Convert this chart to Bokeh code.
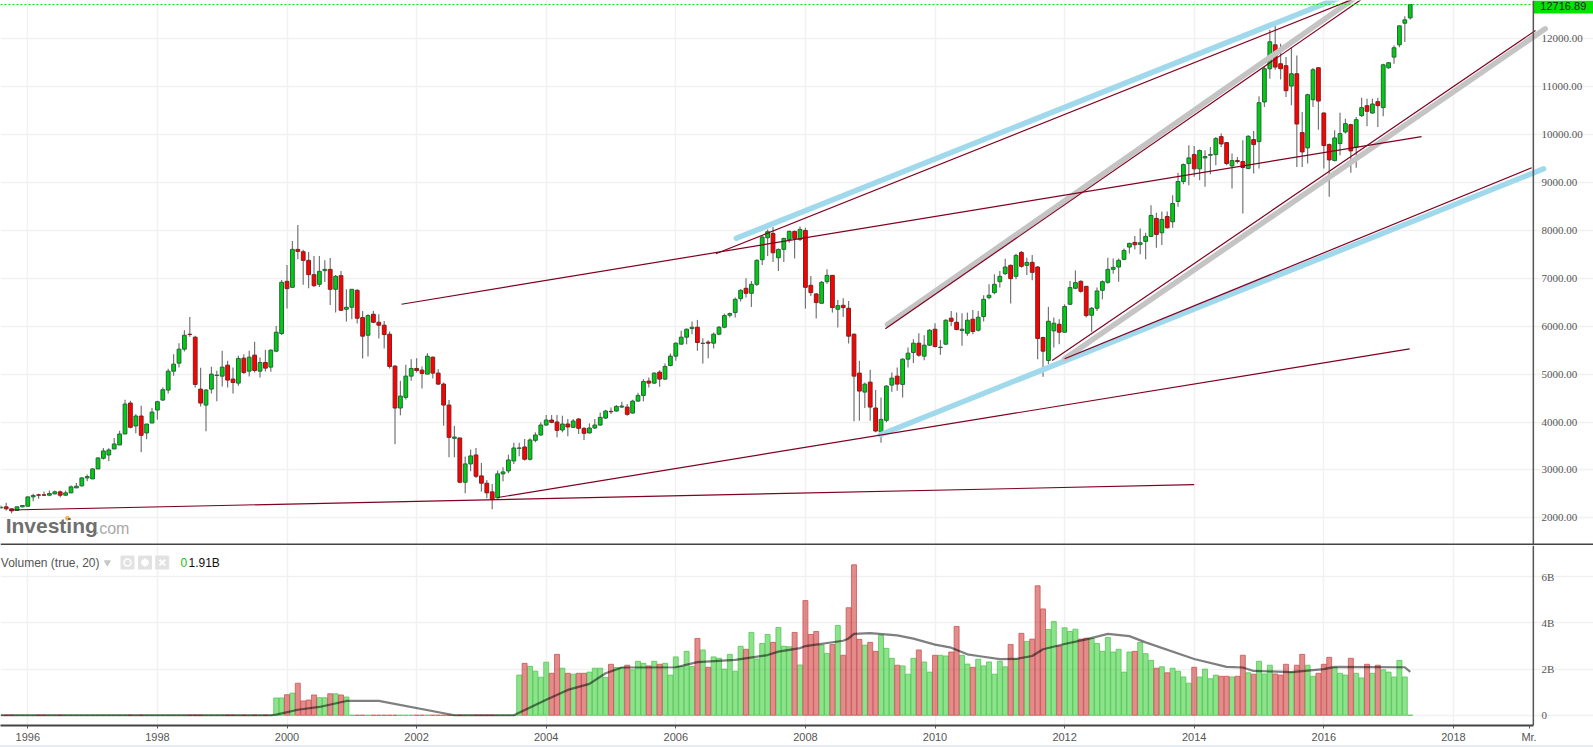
# DAX monthly candles with volume pane and hand drawn trend lines
import numpy as np
from bokeh.embed import file_html
from bokeh.layouts import column
from bokeh.models import BoxAnnotation, ColumnDataSource, Div, FixedTicker, Grid, Label, LinearAxis, Span
from bokeh.plotting import figure
from bokeh.resources import INLINE

# months counted from Jan 1996, one candle per month
months = list(range(-5, 257))

opens = [2208, 2229, 2187, 2153, 2229,
    2243, 2437, 2479, 2479, 2472, 2500, 2542, 2472, 2521, 2625,
    2667, 2833, 2812, 3021, 3243, 3312, 3437, 3521, 3750, 4396,
    3917, 4125, 3771, 3979, 4250, 4458, 4667, 5062, 5229, 5521,
    5833, 5771, 4687, 4354, 4687, 4972, 4958, 5187, 4896, 4812,
    5333, 5062, 5396, 5062, 5243, 5146, 5479, 5847, 6937, 6812,
    7604, 7555, 7375, 7076, 6875, 7160, 7187, 6771, 7055, 6354,
    6396, 6750, 6180, 5812, 6250, 6083, 6021, 5833, 5167, 4292,
    4514, 4958, 5118, 5083, 5000, 5354, 5021, 4792, 4354, 3660,
    3667, 2743, 3125, 3312, 2875, 2722, 2542, 2417, 2917, 2979,
    3187, 3451, 3479, 3222, 3618, 3729, 3937, 4042, 4000, 3833,
    3958, 3889, 4062, 3868, 3771, 3875, 3937, 4083, 4222, 4229,
    4312, 4312, 4187, 4437, 4555, 4854, 4812, 5042, 4896, 5180,
    5375, 5625, 5771, 5951, 5979, 5639, 5667, 5646, 5833, 5979,
    6229, 6285, 6576, 6792, 6687, 6875, 7389, 7847, 7937, 7430,
    7604, 7812, 7979, 7812, 8000, 6854, 6674, 6479, 6930, 7062,
    6354, 6437, 6375, 5833, 5021, 4625, 4833, 4292, 3792, 4035,
    4771, 4958, 4785, 5312, 5451, 5646, 5375, 5604, 5937, 5555,
    5625, 6167, 6083, 5910, 5854, 6146, 5917, 6201, 6597, 6701,
    6930, 7097, 7271, 7042, 7541, 7271, 7333, 7236, 5764, 5285,
    5903, 6041, 5875, 6458, 6792, 6937, 6833, 6229, 6375, 6750,
    6917, 7187, 7236, 7396, 7652, 7750, 7708, 7771, 7875, 8250,
    7951, 8291, 8180, 8604, 9021, 9396, 9583, 9285, 9514, 9569,
    9583, 9958, 9833, 9347, 9458, 9438, 9292, 9896, 9854, 10681,
    11375, 11875, 11479, 11438, 11014, 11271, 10042, 9722, 10729, 11396,
    10451, 9792, 9458, 9813, 10056, 10208, 9736, 10396, 10604, 10451,
    10688, 10563, 11396, 11618, 11875, 12326, 12437]

closes = [2222, 2187, 2146, 2229, 2257,
    2437, 2465, 2472, 2472, 2507, 2542, 2472, 2521, 2646, 2660,
    2833, 2861, 3021, 3250, 3396, 3417, 3542, 3750, 4375, 3889,
    4125, 3722, 3958, 4208, 4424, 4674, 5062, 5208, 5521, 5812,
    5826, 4785, 4396, 4667, 5000, 4979, 5146, 4875, 4826, 5326,
    5035, 5354, 5076, 5243, 5125, 5500, 5875, 6917, 6785, 7604,
    7562, 7375, 7076, 6847, 7146, 7187, 6771, 7042, 6333, 6396,
    6771, 6167, 5792, 6222, 6083, 6021, 5826, 5160, 4292, 4542,
    4958, 5118, 5076, 5014, 5375, 5021, 4792, 4354, 3680, 3687,
    2743, 3125, 3292, 2868, 2722, 2521, 2382, 2917, 2958, 3208,
    3458, 3458, 3222, 3625, 3729, 3937, 4042, 3993, 3826, 3958,
    3896, 4021, 3868, 3764, 3875, 3937, 4097, 4229, 4215, 4326,
    4333, 4160, 4437, 4555, 4847, 4812, 5021, 4896, 5160, 5375,
    5646, 5771, 5937, 5979, 5660, 5646, 5646, 5833, 5979, 6222,
    6264, 6562, 6750, 6687, 6875, 7375, 7861, 7972, 7534, 7604,
    7833, 7979, 7833, 8021, 6812, 6701, 6493, 6917, 7062, 6389,
    6430, 6389, 5792, 4958, 4646, 4792, 4312, 3812, 4055, 4750,
    4917, 4792, 5312, 5437, 5646, 5396, 5604, 5917, 5576, 5562,
    6125, 6104, 5930, 5937, 6125, 5889, 6187, 6562, 6646, 6875,
    7042, 7236, 6993, 7479, 7250, 7333, 7125, 5743, 5479, 6104,
    6062, 5875, 6410, 6806, 6910, 6729, 6222, 6375, 6736, 6930,
    7187, 7229, 7375, 7583, 7729, 7701, 7743, 7875, 8312, 7916,
    8229, 8055, 8562, 9021, 9375, 9514, 9285, 9667, 9542, 9583,
    9917, 9806, 9396, 9458, 9438, 9313, 9965, 9792, 10667, 11375,
    11938, 11410, 11375, 10917, 11271, 10222, 9639, 10833, 11354, 10701,
    9771, 9472, 9931, 10021, 10229, 9660, 10313, 10563, 10486, 10639,
    10604, 11458, 11500, 11813, 12271, 12396, 12716.89]

highs = [2257, 2312, 2194, 2236, 2264,
    2444, 2500, 2500, 2549, 2569, 2569, 2569, 2569, 2674, 2729,
    2847, 2903, 3035, 3264, 3458, 3451, 3667, 3819, 4465, 4444,
    4167, 4340, 3958, 4292, 4444, 4722, 5111, 5417, 5646, 5917,
    6194, 5799, 5132, 4687, 5153, 5069, 5486, 5278, 5139, 5382,
    5417, 5486, 5674, 5347, 5507, 5521, 6007, 6965, 7278, 7778,
    8111, 7597, 7548, 7465, 7465, 7375, 7423, 7069, 7153, 6771,
    6771, 6771, 6319, 6250, 6319, 6250, 6111, 5889, 5187, 4861,
    5194, 5312, 5333, 5160, 5437, 5368, 5104, 4826, 4458, 3917,
    3667, 3278, 3424, 3458, 3146, 2792, 2708, 2986, 3055, 3319,
    3569, 3569, 3646, 3660, 3785, 3993, 4146, 4146, 4146, 4132,
    4062, 4062, 4083, 3889, 3972, 4062, 4201, 4257, 4305, 4354,
    4424, 4375, 4465, 4611, 4896, 4930, 5035, 5083, 5222, 5430,
    5660, 5903, 5951, 6097, 6132, 5750, 5708, 5868, 6007, 6264,
    6285, 6597, 6771, 7000, 6944, 7396, 7882, 8021, 8069, 7625,
    7847, 8000, 8000, 8083, 8055, 7049, 6687, 6944, 7187, 7062,
    6548, 6583, 6528, 5847, 5278, 4826, 5090, 4667, 4514, 4771,
    5035, 5139, 5333, 5555, 5729, 5854, 5812, 5937, 6062, 5715,
    6146, 6319, 6285, 6271, 6285, 6340, 6319, 6646, 6875, 7083,
    7153, 7410, 7291, 7514, 7569, 7430, 7486, 7257, 5778, 6403,
    6180, 6146, 6458, 6944, 7166, 6958, 6840, 6403, 6806, 6958,
    7430, 7416, 7416, 7625, 7743, 7882, 8042, 7951, 8528, 8368,
    8396, 8396, 8736, 9202, 9396, 9778, 9764, 9688, 9674, 9743,
    9951, 10021, 9847, 9604, 9535, 9882, 9986, 10077, 10799, 11410,
    12187, 12347, 11896, 11618, 11813, 11653, 10472, 10854, 11389, 11410,
    10465, 9813, 10090, 10458, 10333, 10229, 10368, 10771, 10750, 10750,
    10771, 11479, 11514, 11861, 12271, 12472, 12716.89]

lows = [2187, 2153, 2097, 2146, 2222,
    2236, 2347, 2396, 2465, 2451, 2486, 2431, 2465, 2514, 2625,
    2653, 2764, 2812, 3021, 3215, 3181, 3437, 3521, 3750, 3868,
    3764, 3368, 3639, 3979, 4049, 4444, 4597, 4965, 5139, 5472,
    5778, 4722, 4326, 3805, 4597, 4431, 4743, 4722, 4597, 4757,
    5000, 4951, 5035, 4930, 5055, 5049, 5458, 5819, 6368, 6806,
    7396, 6868, 6792, 6819, 6819, 6924, 6444, 6285, 6319, 6097,
    6146, 6055, 5326, 5368, 6062, 5743, 5535, 5118, 3535, 4139,
    4472, 4861, 5035, 4701, 4993, 4910, 4771, 3924, 3264, 3264,
    2722, 2514, 2972, 2833, 2549, 2410, 2181, 2396, 2764, 2931,
    3125, 3285, 3194, 3194, 3576, 3715, 3924, 3972, 3680, 3785,
    3701, 3875, 3750, 3625, 3764, 3854, 3924, 4062, 4167, 4215,
    4292, 4132, 4180, 4424, 4431, 4722, 4792, 4736, 4875, 5160,
    5278, 5625, 5625, 5833, 5486, 5222, 5333, 5535, 5812, 5958,
    6180, 6180, 6514, 6597, 6403, 6840, 7278, 7465, 7340, 7153,
    7340, 7743, 7416, 7778, 6368, 6632, 6160, 6472, 6889, 6285,
    5972, 6194, 5639, 4014, 4028, 4292, 4028, 3785, 3569, 3993,
    4632, 4653, 4514, 5139, 5229, 5361, 5292, 5590, 5555, 5403,
    5611, 6007, 5917, 5590, 5799, 5833, 5889, 6097, 6562, 6667,
    6806, 7069, 6472, 6979, 7222, 7069, 6958, 5312, 4944, 5208,
    5555, 5625, 5868, 6444, 6771, 6701, 6180, 5882, 6319, 6562,
    6889, 7097, 6930, 7375, 7520, 7604, 7500, 7396, 7861, 7639,
    7694, 8042, 8055, 8493, 8965, 8945, 9118, 9049, 8910, 9174,
    9361, 9743, 9361, 8875, 9396, 8354, 9278, 9188, 9292, 10576,
    11167, 11354, 11153, 10785, 10611, 9326, 9326, 9396, 10576, 10104,
    9292, 8702, 9444, 9570, 10021, 9202, 9306, 10368, 10174, 10437,
    10160, 10382, 11375, 11479, 11826, 11931, 12403]

# volume in billions, nothing published before late 1999 and 2001-2003
volumes = [0.0] * 51 + [
    0.75, 0.75, 0.89, 0.96, 1.39, 0.62, 0.66, 0.88, 0.76, 0.76, 0.93, 0.93, 0.88, 0.79
] + [0.0] * 31 + [
    1.74, 2.25, 2.12, 1.91, 1.65, 2.30, 1.82, 2.64, 2.04,
    1.82, 1.78, 1.82, 1.82, 1.87, 2.04, 2.04, 1.64, 2.21, 2.07,
    2.07, 2.17, 1.97, 2.34, 2.25, 2.14, 2.34, 2.21, 2.25, 1.74,
    2.53, 2.11, 2.77, 2.11, 3.33, 2.83, 2.08, 2.53, 2.47, 2.00,
    2.64, 1.91, 2.99, 2.86, 3.59, 2.44, 3.11, 3.50, 3.16, 3.80,
    2.99, 2.97, 3.59, 2.18, 4.97, 3.50, 3.63, 3.04, 2.68, 3.07,
    3.89, 2.60, 4.66, 6.52, 3.29, 3.04, 3.16, 2.77, 3.47, 2.90,
    2.47, 2.17, 2.14, 1.78, 2.47, 2.83, 2.31, 1.87, 2.60, 2.60,
    2.57, 2.74, 3.85, 2.60, 2.22, 2.08, 2.43, 2.14, 2.31, 1.78,
    2.34, 2.10, 3.07, 2.44, 3.55, 3.20, 3.30, 5.61, 4.61, 3.72,
    4.06, 3.00, 3.79, 3.63, 3.73, 3.30, 3.34, 3.33, 3.11, 2.77,
    3.37, 2.74, 2.86, 1.87, 2.74, 2.77, 3.16, 2.67, 2.38, 2.04,
    2.10, 1.84, 2.04, 1.91, 1.66, 1.39, 2.08, 1.66, 2.00, 1.58,
    1.74, 1.69, 1.69, 1.66, 1.69, 2.60, 1.84, 1.78, 2.34, 1.79,
    2.17, 1.79, 1.74, 2.21, 1.87, 2.17, 2.64, 2.17, 1.69, 1.82,
    2.21, 2.51, 2.07, 1.82, 1.74, 2.47, 1.82, 1.62, 2.21, 1.82,
    2.17, 1.97, 1.87, 1.66, 2.38, 1.66, 0.0]

# moving average of volume, read at the bends of the line
ma_months = [-5, 45, 46, 50, 54, 59, 65, 79, 90, 93, 96, 100, 104, 107, 110, 120, 124, 131, 137, 139,
             143, 144, 151, 152, 153, 156, 161, 164, 168, 171, 174, 176, 180, 183, 186, 188, 192,
             196, 200, 204, 207, 216, 222, 225, 227, 234, 240, 242, 254, 255, 256]
ma_values = [0, 0, 0.03, 0.24, 0.36, 0.62, 0.62, 0, 0, 0.34, 0.67, 1.10, 1.36, 1.82, 2.07, 2.08, 2.30, 2.40, 2.61, 2.76,
             2.91, 3.00, 3.23, 3.33, 3.53, 3.56, 3.46, 3.32, 3.06, 2.93, 2.64, 2.57, 2.43, 2.44, 2.57, 2.86, 3.09,
             3.29, 3.53, 3.43, 3.16, 2.44, 2.10, 2.07, 1.92, 1.87, 2.00, 2.10, 2.08, 2.08, 1.88]

# trend lines, (month, price) at both ends
red_lines_x = [[-3.4, 216], [87, 255.9], [69.2, 258.1], [127.4, 248.5], [158.8, 248.8], [189.7, 279.2], [192, 278.5]]
red_lines_y = [[2163, 2691], [2424, 5528], [6459, 9960], [7512, 12967], [5946, 12967], [5284, 12173], [5320, 9307]]
blue_lines_x = [[131.2, 245.3], [157.9, 280.7]]
blue_lines_y = [[7837, 12967], [3733, 9286]]
gray_lines_x = [[159.2, 247.2], [192, 281]]
gray_lines_y = [[6035, 12967], [5319, 12209]]

year_ticks = [0, 24, 48, 72, 96, 120, 144, 168, 192, 216, 240, 264]
year_labels = ["1996", "1998", "2000", "2002", "2004", "2006", "2008", "2010", "2012", "2014", "2016", "2018"]
price_ticks = [2000, 3000, 4000, 5000, 6000, 7000, 8000, 9000, 10000, 11000, 12000]
price_labels = ["2000.00", "3000.00", "4000.00", "5000.00", "6000.00", "7000.00", "8000.00", "9000.00",
                "10000.00", "11000.00", "12000.00"]
vol_ticks = [0, 2, 4, 6]
vol_labels = ["0", "2B", "4B", "6B"]
last_price = closes[-1]

X_LEFT, X_RIGHT, X_AXIS = -5.056, 289.94, 278.8
GRID_COLOR = "#f1f1f1"
AXIS_COLOR = "#555555"
TEXT_COLOR = "#555555"
FONT = "Liberation Sans"

o, c, h, l = map(np.array, (opens, closes, highs, lows))
up = c >= o
src = ColumnDataSource(dict(x=months, top=np.maximum(o, c), bottom=np.minimum(o, c), high=h, low=l))
up_src = ColumnDataSource({k: np.array(v)[up] for k, v in src.data.items()})
down_src = ColumnDataSource({k: np.array(v)[~up] for k, v in src.data.items()})


def add_grids(p, y_ticks):
    p.grid.visible = False
    p.add_layout(Grid(dimension=0, ticker=FixedTicker(ticks=year_ticks), grid_line_color=GRID_COLOR,
                      grid_line_width=1.5), "center")
    p.add_layout(Grid(dimension=1, ticker=FixedTicker(ticks=y_ticks), grid_line_color=GRID_COLOR,
                      grid_line_width=1.5, bounds=(X_LEFT, X_AXIS)), "center")


def add_value_axis(p, ticks, labels):
    # the trend lines run past the axis, so the frame goes on to the right edge
    p.add_layout(Span(location=X_AXIS, dimension="height", line_color=AXIS_COLOR, line_width=1.5))
    p.text([X_AXIS + 1.5] * len(ticks), ticks, text=labels, text_baseline="middle", text_color=TEXT_COLOR,
           text_font=FONT, text_font_size="11px")


# price pane
price = figure(width=1593, height=545, x_range=(X_LEFT, X_RIGHT), y_range=(1422, 12800),
               x_axis_location=None, y_axis_location=None, output_backend="svg",
               toolbar_location=None, min_border=0, outline_line_color=None)
add_grids(price, price_ticks)

price.segment("x", "high", "x", "low", source=src, line_color="#757575", line_width=1.2)
price.vbar("x", 0.7, "top", "bottom", source=up_src, fill_color="#00cc10", line_color="#24663a", line_width=1)
price.vbar("x", 0.7, "top", "bottom", source=down_src, fill_color="#ff0000", line_color="#7c2020", line_width=1)

price.multi_line(blue_lines_x, blue_lines_y, line_color="#a0d9ec", line_width=5.5, line_cap="round")
price.multi_line(gray_lines_x, gray_lines_y, line_color="#c4c4c4", line_width=5.5, line_cap="round")
price.multi_line(red_lines_x, red_lines_y, line_color="#800020", line_width=1.2)

price.line([X_LEFT, X_AXIS], [last_price, last_price], line_color="#00dd00", line_width=1, line_dash=[2, 2])
price.add_layout(BoxAnnotation(left=X_AXIS, right=X_RIGHT, bottom=12530, fill_color="#00e400", fill_alpha=1,
                               line_color=None))
add_value_axis(price, price_ticks, price_labels)
price.add_layout(Label(x=X_AXIS + 1.3, y=12690, text="%.2f" % last_price, text_baseline="middle",
                       text_color="#222222", text_font=FONT, text_font_size="11px"))
price.add_layout(Span(location=1442, dimension="width", line_color="#444444", line_width=2))

# watermark
price.add_layout(Label(x=-4.1, y=1590, text="Investing", text_color="#6f6f6f", text_font=FONT,
                       text_font_style="bold", text_font_size="21px"))
price.add_layout(Label(x=12.4, y=1590, text=".com", text_color="#a8a8a8", text_font=FONT,
                       text_font_size="16px"))
price.scatter([7.35], [1990], marker="circle", size=4, color="#f4b94a")

# volume pane
vol = figure(width=1593, height=200, x_range=price.x_range, y_range=(-0.444, 7.358),
             x_axis_location=None, y_axis_location=None, output_backend="svg",
             toolbar_location=None, min_border=0, min_border_bottom=19, outline_line_color=None)
add_grids(vol, vol_ticks)

xaxis = LinearAxis(ticker=FixedTicker(ticks=year_ticks + [278]),
                   major_label_overrides=dict(zip(year_ticks + [278], year_labels + ["Mr."])),
                   bounds=(X_LEFT, X_AXIS), axis_line_color="#444444", axis_line_width=2,
                   major_tick_line_color=AXIS_COLOR, major_tick_in=0, major_tick_out=3,
                   minor_tick_line_color=None, major_label_standoff=2, major_label_text_color=TEXT_COLOR,
                   major_label_text_font=FONT, major_label_text_font_size="11px")
vol.add_layout(xaxis, "below")

v = np.array(volumes)
m = np.array(months)
vol.vbar(m[up], 0.92, v[up], 0, fill_color="#00c000", fill_alpha=0.45, line_color="#55c755", line_width=0.8)
vol.vbar(m[~up], 0.92, v[~up], 0, fill_color="#c00000", fill_alpha=0.45, line_color="#cc5555", line_width=0.8)
vol.line(ma_months, ma_values, line_color="#000000", line_alpha=0.5, line_width=2.2)
add_value_axis(vol, vol_ticks, vol_labels)

vol.add_layout(Label(x=-5.0, y=6.62, text="Volumen (true, 20)", text_baseline="middle", text_color=TEXT_COLOR,
                     text_font=FONT, text_font_size="12px"))
vol.scatter([14.74], [6.62], marker="inverted_triangle", size=6, color="#c8c8c8")
vol.scatter([18.46, 21.7, 24.9], [6.62, 6.62, 6.62], marker="square", size=13, color="#e2e2e2")
vol.scatter([18.46], [6.62], marker="circle", size=7, fill_color=None, line_color="#ffffff", line_width=1.5)
vol.scatter([21.7], [6.62], marker="asterisk", size=8, line_color="#ffffff", line_width=2)
vol.scatter([24.9], [6.62], marker="x", size=8, line_color="#ffffff", line_width=2)
vol.add_layout(Label(x=28.3, y=6.62, text="0", text_baseline="middle", text_color="#22bb22",
                     text_font=FONT, text_font_size="12px"))
vol.add_layout(Label(x=29.75, y=6.62, text="1.91B", text_baseline="middle", text_color="#111111",
                     text_font=FONT, text_font_size="12px"))

strip = Div(text="", width=1593, height=2, margin=0, styles={"background": "#e6ecf2"})

page = column(price, vol, strip, spacing=0)
open("out.html", "w").write(file_html(page, INLINE))
